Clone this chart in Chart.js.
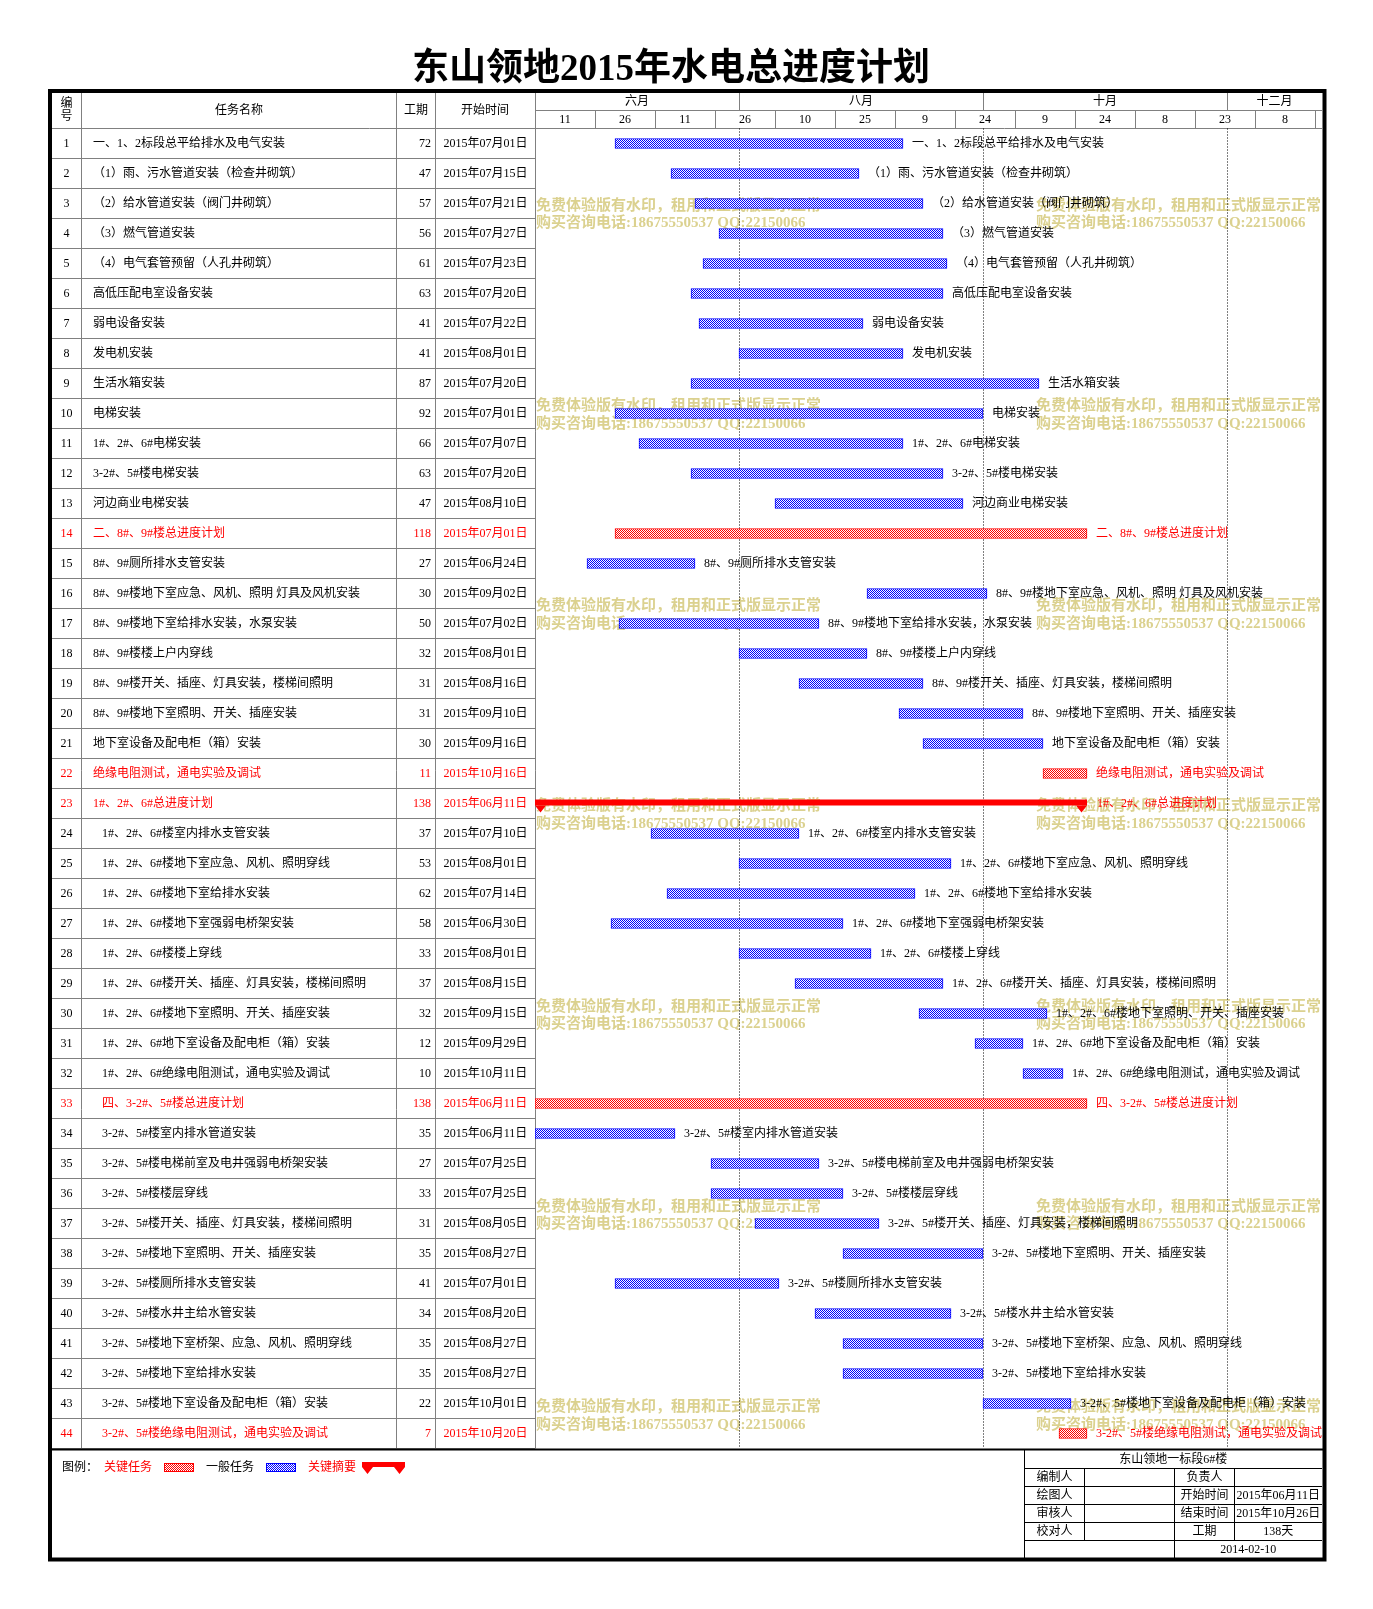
<!DOCTYPE html>
<html>
<head>
<meta charset="utf-8">
<script src="https://cdn.jsdelivr.net/npm/chart.js@4.4.0/dist/chart.umd.min.js"></script>
<style>
  html, body { margin: 0; padding: 0; background: #fff; overflow: hidden; }
</style>
</head>
<body>
<canvas id="gantt" width="1373" height="1609"></canvas>
<script>
// ---- data ----
const chartTitle = '东山领地2015年水电总进度计划';

const taskNames = [
  '一、1、2标段总平给排水及电气安装',
  '（1）雨、污水管道安装（检查井砌筑）',
  '（2）给水管道安装（阀门井砌筑）',
  '（3）燃气管道安装',
  '（4）电气套管预留（人孔井砌筑）',
  '高低压配电室设备安装',
  '弱电设备安装',
  '发电机安装',
  '生活水箱安装',
  '电梯安装',
  '1#、2#、6#电梯安装',
  '3-2#、5#楼电梯安装',
  '河边商业电梯安装',
  '二、8#、9#楼总进度计划',
  '8#、9#厕所排水支管安装',
  '8#、9#楼地下室应急、风机、照明 灯具及风机安装',
  '8#、9#楼地下室给排水安装，水泵安装',
  '8#、9#楼楼上户内穿线',
  '8#、9#楼开关、插座、灯具安装，楼梯间照明',
  '8#、9#楼地下室照明、开关、插座安装',
  '地下室设备及配电柜（箱）安装',
  '绝缘电阻测试，通电实验及调试',
  '1#、2#、6#总进度计划',
  '  1#、2#、6#楼室内排水支管安装',
  '  1#、2#、6#楼地下室应急、风机、照明穿线',
  '  1#、2#、6#楼地下室给排水安装',
  '  1#、2#、6#楼地下室强弱电桥架安装',
  '  1#、2#、6#楼楼上穿线',
  '  1#、2#、6#楼开关、插座、灯具安装，楼梯间照明',
  '  1#、2#、6#楼地下室照明、开关、插座安装',
  '  1#、2#、6#地下室设备及配电柜（箱）安装',
  '  1#、2#、6#绝缘电阻测试，通电实验及调试',
  '  四、3-2#、5#楼总进度计划',
  '  3-2#、5#楼室内排水管道安装',
  '  3-2#、5#楼电梯前室及电井强弱电桥架安装',
  '  3-2#、5#楼楼层穿线',
  '  3-2#、5#楼开关、插座、灯具安装，楼梯间照明',
  '  3-2#、5#楼地下室照明、开关、插座安装',
  '  3-2#、5#楼厕所排水支管安装',
  '  3-2#、5#楼水井主给水管安装',
  '  3-2#、5#楼地下室桥架、应急、风机、照明穿线',
  '  3-2#、5#楼地下室给排水安装',
  '  3-2#、5#楼地下室设备及配电柜（箱）安装',
  '  3-2#、5#楼绝缘电阻测试，通电实验及调试'
];

const durations = [72, 47, 57, 56, 61, 63, 41, 41, 87, 92, 66, 63, 47,
  118, 27, 30, 50, 32, 31, 31, 30, 11,
  138, 37, 53, 62, 58, 33, 37, 32, 12, 10,
  138, 35, 27, 33, 31, 35, 41, 34, 35, 35, 22, 7];

const startDates = [
  '2015年07月01日', '2015年07月15日', '2015年07月21日', '2015年07月27日', '2015年07月23日',
  '2015年07月20日', '2015年07月22日', '2015年08月01日', '2015年07月20日', '2015年07月01日',
  '2015年07月07日', '2015年07月20日', '2015年08月10日',
  '2015年07月01日', '2015年06月24日', '2015年09月02日', '2015年07月02日', '2015年08月01日',
  '2015年08月16日', '2015年09月10日', '2015年09月16日', '2015年10月16日',
  '2015年06月11日', '2015年07月10日', '2015年08月01日', '2015年07月14日', '2015年06月30日',
  '2015年08月01日', '2015年08月15日', '2015年09月15日', '2015年09月29日', '2015年10月11日',
  '2015年06月11日', '2015年06月11日', '2015年07月25日', '2015年07月25日', '2015年08月05日',
  '2015年08月27日', '2015年07月01日', '2015年08月20日', '2015年08月27日', '2015年08月27日',
  '2015年10月01日', '2015年10月20日'
];

const keyRows = [14, 22, 23, 33, 44];   // red rows
const summaryRows = [23];               // drawn as summary bracket

const timelineStart = '2015年06月11日';
const timelineEndDay = 196.75;
const monthLabels = ['六月', '八月', '十月', '十二月'];
const monthStarts = ['2015年06月11日', '2015年08月01日', '2015年10月01日', '2015年12月01日'];
const dayTickLabels = ['11', '26', '11', '26', '10', '25', '9', '24', '9', '24', '8', '23', '8'];
const tickStep = 15;

const legendLabels = ['图例：', '关键任务', '一般任务', '关键摘要'];
const footerTitle = '东山领地一标段6#楼';
const footerLeft = ['编制人', '绘图人', '审核人', '校对人'];
const footerMid = ['负责人', '开始时间', '结束时间', '工期'];
const footerRight = ['', '2015年06月11日', '2015年10月26日', '138天'];
const footerDate = '2014-02-10';

const watermarkLines = ['免费体验版有水印，租用和正式版显示正常', '购买咨询电话:18675550537 QQ:22150066'];

// ---- helpers ----
const FONT = '"Liberation Serif", "Noto Sans CJK SC", serif';
const RED = '#ff0000';
const BLUE = '#0000ff';
const GRID = '#808080';

function font(size, weight) {
  return (weight || 'normal') + ' ' + size + 'px ' + FONT;
}

function dayOf(str) {
  const m = str.match(/(\d+)年(\d+)月(\d+)日/);
  const t0 = timelineStart.match(/(\d+)年(\d+)月(\d+)日/);
  const a = Date.UTC(+m[1], +m[2] - 1, +m[3]);
  const b = Date.UTC(+t0[1], +t0[2] - 1, +t0[3]);
  return Math.round((a - b) / 86400000);
}

function makePattern(color) {
  const c = document.createElement('canvas');
  c.width = 2; c.height = 2;
  const g = c.getContext('2d');
  g.fillStyle = '#fff';
  g.fillRect(0, 0, 2, 2);
  g.fillStyle = color;
  g.fillRect(0, 0, 1, 1);
  g.fillRect(1, 1, 1, 1);
  return g.createPattern(c, 'repeat');
}

function line(ctx, x1, y1, x2, y2) {
  ctx.beginPath();
  ctx.moveTo(x1, y1);
  ctx.lineTo(x2, y2);
  ctx.stroke();
}

function summaryShape(ctx, x1, x2, yTop, h) {
  ctx.fillStyle = RED;
  ctx.fillRect(x1, yTop, x2 - x1, h);
  const yb = yTop + h;
  ctx.beginPath();
  ctx.moveTo(x1, yb); ctx.lineTo(x1 + 11, yb); ctx.lineTo(x1 + 5.5, yb + 7); ctx.closePath();
  ctx.moveTo(x2 - 11, yb); ctx.lineTo(x2, yb); ctx.lineTo(x2 - 5.5, yb + 7); ctx.closePath();
  ctx.fill();
}

const bluePattern = makePattern(BLUE);
const redPattern = makePattern(RED);

const startDays = startDates.map(dayOf);
const isKey = i => keyRows.includes(i + 1);
const isSummary = i => summaryRows.includes(i + 1);

const taskBars = taskNames.map((_, i) => isSummary(i) ? null : [startDays[i], startDays[i] + durations[i]]);
const summaryBars = taskNames.map((_, i) => isSummary(i) ? [startDays[i], startDays[i] + durations[i]] : null);

// ---- table, header, legend, footer ----
const ganttDecor = {
  id: 'ganttDecor',
  beforeDraw(chart) {
    const ctx = chart.ctx, xs = chart.scales.x, ys = chart.scales.y, area = chart.chartArea;
    const half = (ys.getPixelForValue(1) - ys.getPixelForValue(0)) / 2;
    ctx.save();
    ctx.fillStyle = '#fff';
    ctx.fillRect(0, 0, chart.width, chart.height);

    // title
    ctx.fillStyle = '#000';
    ctx.font = font(37, 'bold');
    ctx.textAlign = 'center';
    ctx.textBaseline = 'middle';
    ctx.fillText(chartTitle, 671, 70);

    // left table grid
    ctx.strokeStyle = GRID;
    ctx.lineWidth = 1;
    [81.5, 396.5, 435.5, area.left + 0.5].forEach(x => line(ctx, x, 93, x, area.bottom));
    line(ctx, 52, area.top, area.right, area.top);
    taskNames.forEach((_, i) => {
      const yb = ys.getPixelForValue(i) + half;
      line(ctx, 52, yb, area.left, yb);
    });

    // header of chart part
    const midY = 110.5;
    line(ctx, area.left, midY, area.right, midY);
    monthStarts.forEach((d, k) => {
      const x = Math.round(xs.getPixelForValue(dayOf(d))) + 0.5;
      if (k > 0) line(ctx, x, 93, x, midY);
    });
    for (let v = tickStep; v < timelineEndDay; v += tickStep) {
      const x = Math.round(xs.getPixelForValue(v)) + 0.5;
      line(ctx, x, midY, x, area.top);
    }

    ctx.fillStyle = '#000';
    ctx.font = font(12);
    ctx.textAlign = 'center';
    ctx.fillText('编', 66.5, 104);
    ctx.fillText('号', 66.5, 117);
    ctx.fillText('任务名称', 239, 110.5);
    ctx.fillText('工期', 416, 110.5);
    ctx.fillText('开始时间', 485, 110.5);

    monthLabels.forEach((lab, k) => {
      const a = xs.getPixelForValue(dayOf(monthStarts[k]));
      const b = k + 1 < monthStarts.length ? xs.getPixelForValue(dayOf(monthStarts[k + 1])) : area.right;
      ctx.fillText(lab, (a + b) / 2, 102);
    });
    dayTickLabels.forEach((lab, k) => {
      const a = xs.getPixelForValue(k * tickStep);
      const b = xs.getPixelForValue((k + 1) * tickStep);
      ctx.fillText(lab, (a + b) / 2, 120);
    });

    // table text
    taskNames.forEach((name, i) => {
      const y = ys.getPixelForValue(i);
      ctx.fillStyle = isKey(i) ? RED : '#000';
      ctx.textAlign = 'center';
      ctx.fillText(String(i + 1), 66.5, y);
      ctx.textAlign = 'left';
      const lead = name.length - name.replace(/^\s+/, '').length;
      ctx.fillText(name.trim(), 93 + lead * 4.5, y);
      ctx.textAlign = 'right';
      ctx.fillText(String(durations[i]), 431, y);
      ctx.textAlign = 'center';
      ctx.fillText(startDates[i], 485.5, y);
    });

    // legend
    const ly = 1468;
    ctx.textAlign = 'left';
    ctx.fillStyle = '#000';
    ctx.fillText(legendLabels[0], 62, ly);
    ctx.fillStyle = RED;
    ctx.fillText(legendLabels[1], 104, ly);
    ctx.fillStyle = redPattern;
    ctx.fillRect(164, 1463, 30, 9);
    ctx.strokeStyle = RED;
    ctx.strokeRect(164.5, 1463.5, 29, 8);
    ctx.fillStyle = '#000';
    ctx.fillText(legendLabels[2], 206, ly);
    ctx.fillStyle = bluePattern;
    ctx.fillRect(266, 1463, 30, 9);
    ctx.strokeStyle = BLUE;
    ctx.strokeRect(266.5, 1463.5, 29, 8);
    ctx.fillStyle = RED;
    ctx.fillText(legendLabels[3], 308, ly);
    summaryShape(ctx, 362, 405, 1462, 5);

    // footer table
    ctx.strokeStyle = '#000';
    const fx = [1024.5, 1084.5, 1174.5, 1234.5];
    const fy = [1468.5, 1486.5, 1504.5, 1522.5, 1540.5];
    line(ctx, fx[0], 1450, fx[0], 1559);
    fy.forEach(y => line(ctx, fx[0], y, area.right, y));
    line(ctx, fx[1], fy[0], fx[1], fy[4]);
    line(ctx, fx[2], fy[0], fx[2], 1559);
    line(ctx, fx[3], fy[0], fx[3], fy[4]);
    ctx.fillStyle = '#000';
    ctx.textAlign = 'center';
    ctx.fillText(footerTitle, (fx[0] + area.right) / 2, 1459.5);
    for (let r = 0; r < 4; r++) {
      const y = (fy[r] + fy[r + 1]) / 2 + 0.5;
      ctx.fillText(footerLeft[r], (fx[0] + fx[1]) / 2, y);
      ctx.fillText(footerMid[r], (fx[2] + fx[3]) / 2, y);
      ctx.fillText(footerRight[r], (fx[3] + area.right) / 2, y);
    }
    ctx.fillText(footerDate, (fx[2] + area.right) / 2, 1550);
    ctx.restore();
  },

  beforeDatasetsDraw(chart) {
    const ctx = chart.ctx, xs = chart.scales.x, area = chart.chartArea;
    ctx.save();
    // trial watermark of the source software
    ctx.fillStyle = '#dbd18f';
    ctx.font = font(15, 'bold');
    ctx.textAlign = 'left';
    ctx.textBaseline = 'middle';
    for (let k = 0; k < 7; k++) {
      const y = 206 + 200.2 * k;
      [536, 1036].forEach(x => {
        ctx.fillText(watermarkLines[0], x, y);
        ctx.fillText(watermarkLines[1], x, y + 17.5);
      });
    }
    // dotted month separators
    ctx.strokeStyle = '#000';
    ctx.lineWidth = 1;
    ctx.setLineDash([1, 2]);
    monthStarts.slice(1).forEach(d => {
      const x = Math.round(xs.getPixelForValue(dayOf(d))) + 0.5;
      line(ctx, x, area.top, x, area.bottom);
    });
    ctx.restore();
  },

  afterDatasetsDraw(chart) {
    const ctx = chart.ctx;
    const m0 = chart.getDatasetMeta(0), m1 = chart.getDatasetMeta(1);
    ctx.save();
    ctx.font = font(12);
    ctx.textAlign = 'left';
    ctx.textBaseline = 'middle';
    taskNames.forEach((name, i) => {
      const el = (isSummary(i) ? m1 : m0).data[i];
      if (!el) return;
      const x1 = Math.min(el.x, el.base), x2 = Math.max(el.x, el.base);
      if (isSummary(i)) {
        summaryShape(ctx, x1, x2, el.y - 4, 6);
      }
      ctx.fillStyle = isKey(i) ? RED : '#000';
      ctx.fillText(name.trim(), x2 + (isSummary(i) ? 10 : 9), el.y);
    });
    ctx.restore();
  },

  afterDraw(chart) {
    const ctx = chart.ctx, area = chart.chartArea;
    ctx.save();
    ctx.strokeStyle = '#000';
    ctx.lineWidth = 2;
    line(ctx, 50, area.bottom + 1, 1324, area.bottom + 1);
    ctx.lineWidth = 4;
    ctx.strokeRect(50, 91, 1274.5, 1468.5);
    ctx.restore();
  }
};

new Chart(document.getElementById('gantt'), {
  type: 'bar',
  data: {
    labels: taskNames.map((_, i) => String(i + 1)),
    datasets: [
      {
        label: 'tasks',
        data: taskBars,
        backgroundColor: taskNames.map((_, i) => isKey(i) ? redPattern : bluePattern),
        borderColor: taskNames.map((_, i) => isKey(i) ? RED : BLUE),
        borderWidth: 1,
        borderSkipped: false,
        barThickness: 10,
        grouped: false
      },
      {
        label: 'summary',
        data: summaryBars,
        backgroundColor: 'rgba(0,0,0,0)',
        borderWidth: 0,
        barThickness: 6,
        grouped: false
      }
    ]
  },
  options: {
    indexAxis: 'y',
    responsive: false,
    animation: false,
    devicePixelRatio: 1,
    layout: { padding: { left: 535, right: 51, top: 128.5, bottom: 160.5 } },
    scales: {
      x: { type: 'linear', min: 0, max: timelineEndDay, display: false },
      y: { display: false, offset: true }
    },
    plugins: {
      legend: { display: false },
      tooltip: { enabled: false }
    }
  },
  plugins: [ganttDecor]
});
</script>
</body>
</html>
